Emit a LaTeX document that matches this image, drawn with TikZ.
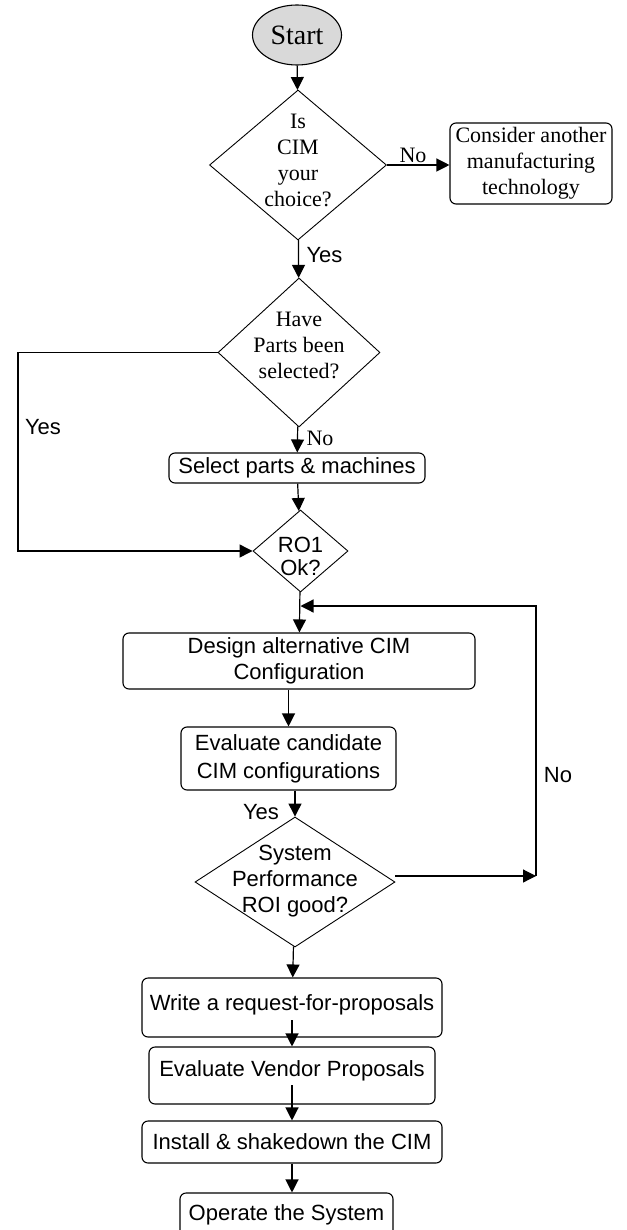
\documentclass[tikz,border=0pt]{standalone}
\usepackage{fontspec}
\setmainfont{Liberation Serif}
\setsansfont{Liberation Sans}
\usetikzlibrary{arrows.meta,shapes.geometric}

% text of a decision, kept out of the diamond size
\newcommand{\dtext}[2][0pt]{\smash{\makebox[0pt]{\raisebox{#1}{\begin{tabular}[c]{@{}c@{}}#2\end{tabular}}}}}

\begin{document}
\begin{tikzpicture}[x=1pt,y=-1pt,
  >={Triangle[length=13pt,width=13pt]},
  every node/.style={font=\sffamily\fontsize{22}{26}\selectfont},
  serif/.style={font=\rmfamily\fontsize{22}{26}\selectfont},
  box/.style={draw,rounded corners=6pt,line width=1.1pt,inner sep=0pt},
  decision/.style={draw,diamond,line width=0.9pt,inner sep=0pt},
  line/.style={line width=1.2pt}]

\useasboundingbox (0,0) rectangle (626,1230);

\node (start) [draw,ellipse,fill=gray!30,line width=1.1pt,minimum width=89pt,minimum height=60pt,inner sep=0pt,font=\rmfamily\fontsize{28}{32}\selectfont] at (297,35) {\raisebox{-5pt}{Start}};

\node (choice) [decision,minimum width=177pt,minimum height=150pt,serif] at (298,165) {\dtext[-2pt]{Is\\CIM\\your\\choice?}};
\node (other) [box,align=center,minimum width=162pt,minimum height=81pt,serif] at (531,163.5) {Consider another\\manufacturing\\technology};

\node (parts) [decision,minimum width=162pt,minimum height=149pt,serif] at (299,352.5) {\dtext{Have\\Parts been\\selected?}};
\node (select) [box,minimum width=256pt,minimum height=30pt] at (297,468) {Select parts \& machines};
\node (ro1) [decision,minimum width=95pt,minimum height=82pt] at (300.5,551) {\dtext[-13pt]{RO1\\[-3pt]Ok?}};

\node (design) [box,align=center,minimum width=352pt,minimum height=56pt] at (299,661) {Design alternative CIM\\Configuration};
\node (eval) [box,align=center,minimum width=215pt,minimum height=63pt] at (288.5,758.5) {Evaluate candidate\\[2pt]CIM configurations};
\node (system) [decision,minimum width=200pt,minimum height=130pt] at (295,882) {\dtext[-4pt]{System\\Performance\\ROI good?}};

\node (write) [box,minimum width=300pt,text height=32pt,text depth=27pt,anchor=base] at (292,1010) {Write a request-for-proposals};
\node (vendor) [box,minimum width=286pt,text height=29pt,text depth=28pt,anchor=base] at (292,1076) {Evaluate Vendor Proposals};
\node (install) [box,minimum width=300pt,minimum height=42pt] at (292,1142) {Install \& shakedown the CIM};
\node (operate) [box,minimum width=213pt,text height=27pt,text depth=22pt,anchor=base] at (286.5,1220) {Operate the System};

% labels
\node (noA) [serif] at (413,155) {No};
\node (yesA) [anchor=west] at (303,255) {Yes};
\node (yesB) at (43,427) {Yes};
\node (noB) [serif] at (320,438) {No};
\node (yesC) at (261,812) {Yes};
\node (noC) at (558,775) {No};

\coordinate (loopL) at (18,450);
\coordinate (loopR) at (536,606);
\coordinate (noend) at (536,876);
\coordinate (merge) at (300.5,606);

\draw [line,->] (start) -- (choice);
\draw [line,->] (choice.east) -- (choice.east -| other.west);
\draw [line,->] (choice) -- (parts);
\draw [line,->] (parts.west) -| (loopL) |- (ro1.west);
\draw [line,->] (parts) -- (select);
\draw [line,->] (select) -- (ro1);
\draw [line,->] (ro1) -- (design);

% back to design
\draw [line,->] (system.east |- noend) -- (noend);
\draw [line,->] (noend) -- (loopR) -- (merge);

\draw [line,->] (eval.north |- design.south) -- (eval.north);
\draw [line,->] (system.north |- eval.south) -- (system.north);
\draw [line,->] (system) -- (write);
\draw [line,->] ([yshift=-10pt]write.base) -- (vendor.north);
\draw [line,->] ([yshift=-9pt]vendor.base) -- (install.north);
\draw [line,->] (install) -- (operate.north -| install.south);
\end{tikzpicture}
\end{document}
